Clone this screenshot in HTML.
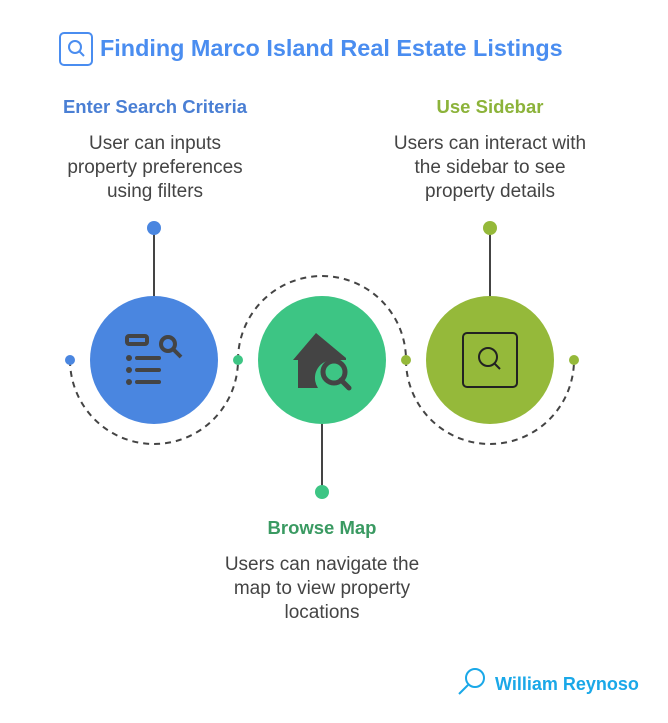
<!DOCTYPE html>
<html><head><style>
body{margin:0;width:668px;height:723px;background:#fff;font-family:"Liberation Sans",sans-serif;position:relative;overflow:hidden}
.t{position:absolute;text-align:center;color:#444;font-size:19px;line-height:24px}
.h{position:absolute;text-align:center;font-weight:bold;font-size:18.5px}
</style></head><body>
<svg width="668" height="723" style="position:absolute;left:0;top:0">
<rect x="60" y="33" width="32" height="32" rx="4" fill="none" stroke="#4a8df0" stroke-width="2"/>
<circle cx="75" cy="47" r="6" fill="none" stroke="#4a8df0" stroke-width="2"/>
<line x1="79" y1="51" x2="84" y2="56" stroke="#4a8df0" stroke-width="2"/>
<g fill="none" stroke="#444" stroke-width="2" stroke-dasharray="6 5">
<path d="M70 360 A84 84 0 0 0 238 360"/>
<path d="M238 360 A84 84 0 0 1 406 360"/>
<path d="M406 360 A84 84 0 0 0 574 360"/>
</g>
<line x1="154" y1="228" x2="154" y2="296" stroke="#444" stroke-width="2"/>
<line x1="490" y1="228" x2="490" y2="296" stroke="#444" stroke-width="2"/>
<line x1="322" y1="424" x2="322" y2="492" stroke="#444" stroke-width="2"/>
<circle cx="154" cy="228" r="7" fill="#4a86e0"/>
<circle cx="490" cy="228" r="7" fill="#95b93a"/>
<circle cx="322" cy="492" r="7" fill="#3dc584"/>
<circle cx="70" cy="360" r="5" fill="#4a86e0"/>
<circle cx="238" cy="360" r="5" fill="#3dc584"/>
<circle cx="406" cy="360" r="5" fill="#95b93a"/>
<circle cx="574" cy="360" r="5" fill="#95b93a"/>
<circle cx="154" cy="360" r="64" fill="#4a86e0"/>
<circle cx="322" cy="360" r="64" fill="#3dc584"/>
<circle cx="490" cy="360" r="64" fill="#95b93a"/>
<g fill="#444" stroke="#444">
<rect x="127" y="336" width="20" height="8" rx="2" fill="none" stroke-width="4"/>
<circle cx="168" cy="344" r="7" fill="none" stroke-width="4"/>
<line x1="173" y1="349" x2="181" y2="357" stroke-width="4"/>
<circle cx="129" cy="358" r="3" stroke="none"/><rect x="135" y="356" width="26" height="4" rx="2" stroke="none"/>
<circle cx="129" cy="370" r="3" stroke="none"/><rect x="135" y="368" width="26" height="4" rx="2" stroke="none"/>
<circle cx="129" cy="382" r="3" stroke="none"/><rect x="135" y="380" width="26" height="4" rx="2" stroke="none"/>
</g>
<path d="M293 360 L316 333 L346 358 L346 360 L332 360 A18 18 0 0 0 318 388 L298 388 L298 360 Z" fill="#444"/>
<circle cx="334" cy="372" r="11" fill="none" stroke="#444" stroke-width="5"/>
<line x1="341" y1="380" x2="349" y2="388" stroke="#444" stroke-width="5" stroke-linecap="round"/>
<rect x="463" y="333" width="54" height="54" rx="4" fill="none" stroke="#222" stroke-width="2"/>
<circle cx="488" cy="357" r="9" fill="none" stroke="#222" stroke-width="2"/>
<line x1="494" y1="363" x2="500" y2="369" stroke="#222" stroke-width="2"/>
<circle cx="475" cy="678" r="9" fill="none" stroke="#1aa8e8" stroke-width="2"/>
<line x1="468" y1="685" x2="459" y2="694" stroke="#1aa8e8" stroke-width="2"/>
</svg>
<div style="position:absolute;left:100px;top:35px;font-size:23.4px;font-weight:bold;color:#4a8df0">Finding Marco Island Real Estate Listings</div>
<div class="h" style="left:30px;width:250px;top:96px;color:#4a7fd4">Enter Search Criteria</div>
<div class="t" style="left:20px;width:270px;top:132px">User can inputs<br>property preferences<br>using filters</div>
<div class="h" style="left:365px;width:250px;top:96px;color:#8cb33a">Use Sidebar</div>
<div class="t" style="left:345px;width:290px;top:132px">Users can interact with<br>the sidebar to see<br>property details</div>
<div class="h" style="left:197px;width:250px;top:517px;color:#3a9a62">Browse Map</div>
<div class="t" style="left:177px;width:290px;top:553px">Users can navigate the<br>map to view property<br>locations</div>
<div style="position:absolute;left:495px;top:674px;font-size:18px;font-weight:bold;color:#1aa8e8">William Reynoso</div>
</body></html>
